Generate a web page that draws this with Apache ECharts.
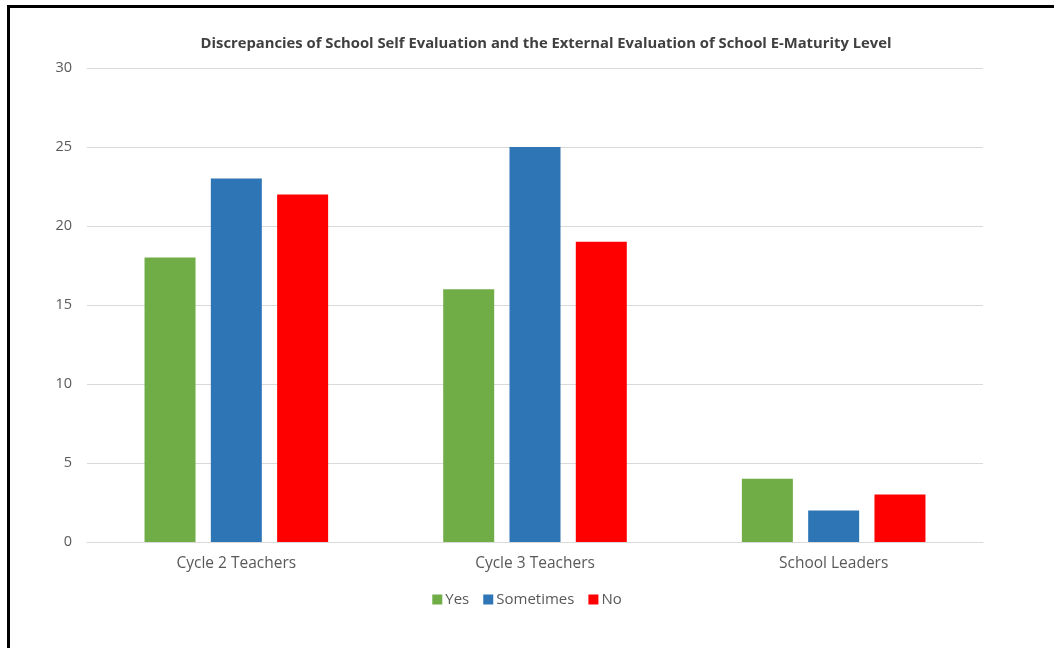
<!DOCTYPE html>
<html>
<head>
<meta charset="utf-8">
<script src="https://cdn.jsdelivr.net/npm/echarts@6/dist/echarts.min.js"></script>
<style>
  html, body { margin: 0; padding: 0; background: #fff; }
  #chart { width: 1054px; height: 648px; }
  #frame {
    position: absolute; left: 7px; top: 5px; width: 1100px; height: 700px;
    border-left: 3px solid #000; border-top: 3px solid #000; pointer-events: none;
  }
</style>
</head>
<body>
<div id="chart"></div>
<div id="frame"></div>
<script>
const categories = ['Cycle 2 Teachers', 'Cycle 3 Teachers', 'School Leaders'];
const yesValues = [18, 16, 4];
const sometimesValues = [23, 25, 2];
const noValues = [22, 19, 3];
const seriesNames = ['Yes', 'Sometimes', 'No'];
const seriesColors = ['#70AD47', '#2E75B6', '#FF0000'];

const chart = echarts.init(document.getElementById('chart'), null, { renderer: 'canvas' });
const font = 'Open Sans, Noto Sans, sans-serif';

function bar(name, data, color) {
  return {
    name: name, type: 'bar', data: data, barWidth: 51, barGap: '30%',
    itemStyle: { color: color }
  };
}

chart.setOption({
  animation: false,
  title: {
    text: 'Discrepancies of School Self Evaluation and the External Evaluation of School E-Maturity Level',
    left: 541, top: 31, textAlign: 'center',
    textStyle: { fontFamily: font, fontSize: 14.8, fontWeight: 'bold', color: '#404040' }
  },
  legend: {
    data: seriesNames, left: 'center', top: 587,
    itemWidth: 10, itemHeight: 10, itemGap: 14, icon: 'rect',
    textStyle: { fontFamily: font, fontSize: 15, color: '#595959', padding: [0, 0, 0, -2] }
  },
  grid: { left: 87, right: 71, top: 68, bottom: 106, containLabel: false },
  xAxis: {
    type: 'category', data: categories,
    axisLine: { lineStyle: { color: '#D9D9D9', width: 1 } },
    axisTick: { show: false },
    axisLabel: { fontFamily: font, fontSize: 15.5, color: '#595959', margin: 14 }
  },
  yAxis: {
    type: 'value', min: 0, max: 30, interval: 5,
    axisLine: { show: false }, axisTick: { show: false },
    splitLine: { lineStyle: { color: '#D9D9D9', width: 1 } },
    axisLabel: { fontFamily: font, fontSize: 14.5, color: '#595959', margin: 15 }
  },
  series: [
    bar(seriesNames[0], yesValues, seriesColors[0]),
    bar(seriesNames[1], sometimesValues, seriesColors[1]),
    bar(seriesNames[2], noValues, seriesColors[2])
  ]
});
</script>
</body>
</html>
